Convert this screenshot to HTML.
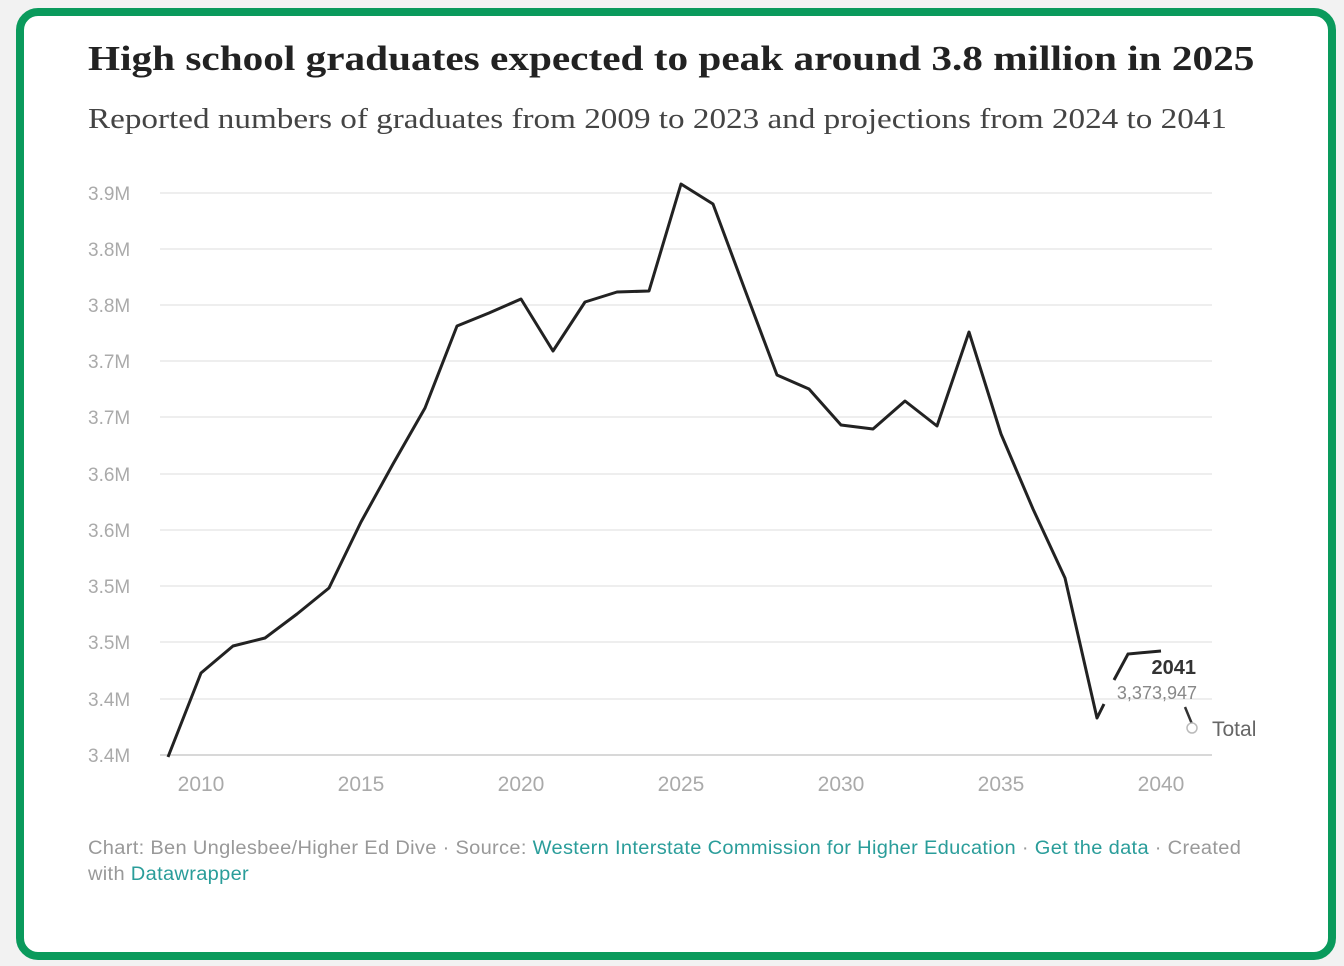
<!DOCTYPE html>
<html><head><style>
body{margin:0;width:1344px;height:966px;background:#f2f2f2;overflow:hidden;font-family:"Liberation Sans",sans-serif}
.card{position:absolute;left:16px;top:8px;width:1304px;height:936px;border:8px solid #0a9a5c;border-radius:22px;background:#fff}
.t{position:absolute;left:88px;top:39px;font-family:"Liberation Serif",serif;font-weight:bold;font-size:35px;color:#222;white-space:nowrap;transform:scaleX(1.178);transform-origin:0 0}
.s{position:absolute;left:88px;top:104px;font-family:"Liberation Serif",serif;font-size:28px;color:#444;white-space:nowrap;transform:scaleX(1.184);transform-origin:0 0}
.f{position:absolute;left:88px;top:836px;font-size:19px;color:#999;line-height:26px;white-space:nowrap;letter-spacing:0.3px;transform:scaleX(1.055);transform-origin:0 0}
.f b{font-weight:normal;color:#2a9d9a}
</style></head><body>
<div class="card"></div>
<div class="t">High school graduates expected to peak around 3.8 million in 2025</div>
<div class="s">Reported numbers of graduates from 2009 to 2023 and projections from 2024 to 2041</div>
<svg style="position:absolute;left:0;top:0" width="1344" height="966">
<g stroke="#e8e8e8" stroke-width="1.5">
<line x1="160" x2="1212" y1="193" y2="193"/><line x1="160" x2="1212" y1="249" y2="249"/><line x1="160" x2="1212" y1="305" y2="305"/><line x1="160" x2="1212" y1="361" y2="361"/><line x1="160" x2="1212" y1="417" y2="417"/><line x1="160" x2="1212" y1="474" y2="474"/><line x1="160" x2="1212" y1="530" y2="530"/><line x1="160" x2="1212" y1="586" y2="586"/><line x1="160" x2="1212" y1="642" y2="642"/><line x1="160" x2="1212" y1="699" y2="699"/><line x1="160" x2="1212" y1="755" y2="755" stroke="#ccc"/>
</g>
<g font-size="19" fill="#aaa" font-family="Liberation Sans">
<text x="88" y="200">3.9M</text><text x="88" y="256">3.8M</text><text x="88" y="312">3.8M</text><text x="88" y="368">3.7M</text><text x="88" y="424">3.7M</text><text x="88" y="481">3.6M</text><text x="88" y="537">3.6M</text><text x="88" y="593">3.5M</text><text x="88" y="649">3.5M</text><text x="88" y="706">3.4M</text><text x="88" y="762">3.4M</text>
</g>
<g font-size="21" fill="#aaa" text-anchor="middle">
<text x="201" y="791">2010</text><text x="361" y="791">2015</text><text x="521" y="791">2020</text><text x="681" y="791">2025</text><text x="841" y="791">2030</text><text x="1001" y="791">2035</text><text x="1161" y="791">2040</text>
</g>
<polyline fill="none" stroke="#222" stroke-width="3" stroke-linejoin="round" points="168,757 201,673 233,646 265,638 297,614 329,588 361,522 393,464 425,408 457,326 489,313 521,299 553,351 585,302 617,292 649,291 681,184 713,204 745,290 777,375 809,389 841,425 873,429 905,401 937,426 969,332 1001,434 1033,509 1065,578 1097,718 1104,704"/>
<polyline fill="none" stroke="#222" stroke-width="3" points="1114,680 1128,654 1161,651"/>
<line x1="1185" y1="707" x2="1192" y2="724" stroke="#333" stroke-width="2.5"/>
<circle cx="1192" cy="728" r="5" fill="#fff" stroke="#bbb" stroke-width="1.5"/>
<text x="1196" y="674" font-size="20" font-weight="bold" fill="#333" text-anchor="end">2041</text>
<text x="1197" y="699" font-size="18" fill="#888" text-anchor="end">3,373,947</text>
<text x="1212" y="736" font-size="21" fill="#666">Total</text>
</svg>
<div class="f">Chart: Ben Unglesbee/Higher Ed Dive · Source: <b>Western Interstate Commission for Higher Education</b> · <b>Get the data</b> · Created<br>with <b>Datawrapper</b></div>
</body></html>
